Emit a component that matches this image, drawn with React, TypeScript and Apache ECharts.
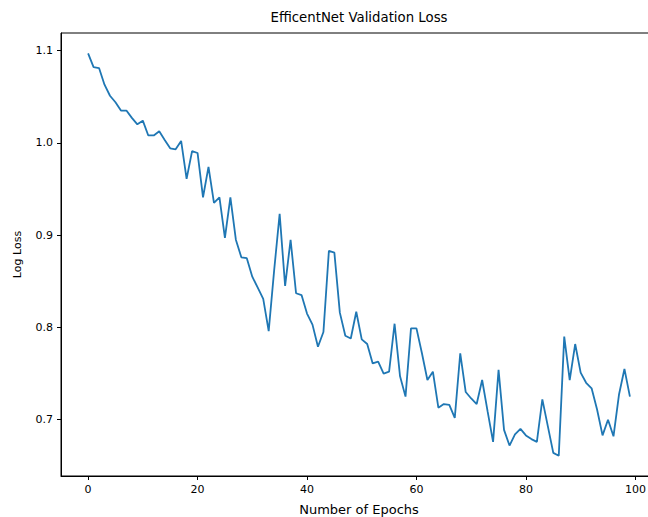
import React, { useEffect, useRef } from "react";
import * as echarts from "echarts";

const lossValues = [
  1.097, 1.082, 1.081, 1.063, 1.051, 1.044, 1.035, 1.035, 1.027, 1.02,
  1.024, 1.008, 1.008, 1.0125, 1.003, 0.994, 0.993, 1.002, 0.961, 0.991,
  0.989, 0.941, 0.974, 0.935, 0.941, 0.897, 0.941, 0.895, 0.876, 0.875,
  0.855, 0.843, 0.831, 0.796, 0.862, 0.923, 0.845, 0.895, 0.837, 0.835,
  0.815, 0.803, 0.779, 0.795, 0.883, 0.881, 0.816, 0.791, 0.788, 0.817,
  0.787, 0.782, 0.761, 0.763, 0.75, 0.752, 0.804, 0.747, 0.725, 0.799,
  0.799, 0.772, 0.743, 0.752, 0.713, 0.717, 0.716, 0.702, 0.772, 0.73,
  0.723, 0.717, 0.743, 0.709, 0.676, 0.754, 0.689, 0.672, 0.684, 0.69,
  0.683, 0.679, 0.676, 0.722, 0.693, 0.664, 0.661, 0.79, 0.743, 0.782,
  0.751, 0.74, 0.734, 0.711, 0.683, 0.7, 0.682, 0.727, 0.755, 0.725,
];
const epochs = lossValues.map((_, i) => i);
const xTicks = [0, 20, 40, 60, 80, 100];
const yTicks = [0.7, 0.8, 0.9, 1.0, 1.1];

const FONT = "DejaVu Sans";

export default function App() {
  const ref = useRef<HTMLDivElement>(null);
  useEffect(() => {
    const chart = echarts.init(ref.current!, null, { renderer: "svg" });
    chart.setOption({
      animation: false,
      backgroundColor: "#fff",
      textStyle: { fontFamily: FONT },
      grid: {
        left: 61,
        top: 33,
        width: 596,
        height: 443,
        show: true,
        borderColor: "#000",
        borderWidth: 1,
        outerBoundsMode: "none",
        containLabel: false,
      },
      graphic: [
        {
          type: "text",
          x: 359,
          y: 17,
          style: {
            text: "EfficentNet Validation Loss",
            fontFamily: FONT,
            fontSize: 13.3,
            fill: "#000",
            textAlign: "center",
            textVerticalAlign: "middle",
          },
        },
      ],
      xAxis: {
        type: "value",
        min: -4.95,
        max: 103.95,
        name: "Number of Epochs",
        nameLocation: "middle",
        nameGap: 27,
        nameTextStyle: { fontFamily: FONT, fontSize: 13, color: "#000" },
        axisLine: { show: true, onZero: false, lineStyle: { color: "#000", width: 1 } },
        axisTick: {
          show: true,
          length: 4,
          customValues: xTicks,
          lineStyle: { color: "#000", width: 1 },
        },
        axisLabel: {
          customValues: xTicks,
          fontFamily: FONT,
          fontSize: 11,
          color: "#000",
          margin: 8,
        },
        splitLine: { show: false },
      },
      yAxis: {
        type: "value",
        min: 0.639,
        max: 1.119,
        name: "Log Loss",
        nameLocation: "middle",
        nameGap: 38,
        nameRotate: 90,
        nameTextStyle: { fontFamily: FONT, fontSize: 11, color: "#000" },
        axisLine: { show: true, onZero: false, lineStyle: { color: "#000", width: 1 } },
        axisTick: {
          show: true,
          length: 4,
          customValues: yTicks,
          lineStyle: { color: "#000", width: 1 },
        },
        axisLabel: {
          customValues: yTicks,
          fontFamily: FONT,
          fontSize: 11,
          color: "#000",
          margin: 8,
          formatter: (v: number) => v.toFixed(1),
        },
        splitLine: { show: false },
      },
      series: [
        {
          type: "line",
          data: epochs.map((e, i) => [e, lossValues[i]]),
          showSymbol: false,
          lineStyle: { color: "#1f77b4", width: 1.8 },
          itemStyle: { color: "#1f77b4" },
        },
      ],
    });
    return () => chart.dispose();
  }, []);
  return (
    <div
      ref={ref}
      style={{ position: "absolute", left: 0, top: 0, width: 648, height: 517 }}
    />
  );
}
